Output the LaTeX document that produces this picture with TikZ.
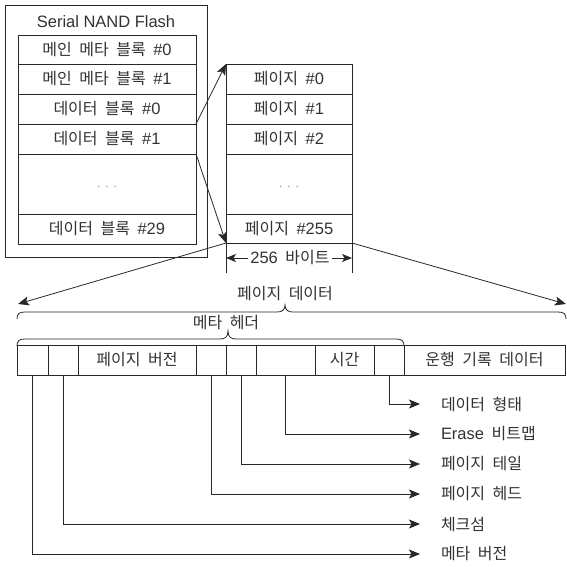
\documentclass[tikz,border=0pt]{standalone}
\usepackage{fontspec}
\setmainfont{Noto Sans CJK KR}[WordSpace=2.1]
\newfontfamily\latf{Liberation Sans}[Scale=1.03]
\newcommand\lt[1]{{\latf #1}}
\usetikzlibrary{arrows.meta}
\definecolor{txt}{RGB}{50,50,50}
\definecolor{lncol}{RGB}{40,40,40}
\newcommand\fs{\fontsize{16}{19}\selectfont}
\tikzset{
  ln/.style={line width=0.8pt, draw=lncol},
  cell/.style={ln, rectangle, inner sep=0pt, outer sep=0pt, text=txt, font=\fs},
  lbl/.style={inner sep=0pt, outer sep=0pt, text=txt, font=\fs},
  dots/.style={inner sep=0pt, text=black!50, font=\fontsize{10}{12}\selectfont},
  arr/.style={ln, -{Stealth[length=11pt,width=9pt,inset=2.5pt]}},
  darr/.style={ln, {Stealth[length=10pt,width=8pt,inset=2.5pt]}-{Stealth[length=10pt,width=8pt,inset=2.5pt]}},
}
\begin{document}
\begin{tikzpicture}[x=1pt,y=-1pt]
\useasboundingbox (0,0) rectangle (567,566);
% flash frame
\node[cell, minimum width=202pt, minimum height=252pt] (flash) at (106,131) {};
\node[lbl] (title) at (106,22) {\lt{Serial NAND Flash}};
% blocks
\node[cell, minimum width=178pt, minimum height=29pt] (m0) at (107,49.5) {메인 메타 블록 \lt{\#0}};
\node[cell, minimum width=178pt, minimum height=30pt] (m1) at (107,79) {메인 메타 블록 \lt{\#1}};
\node[cell, minimum width=178pt, minimum height=30pt] (d0) at (107,109) {데이터 블록 \lt{\#0}};
\node[cell, minimum width=178pt, minimum height=30pt] (d1) at (107,139) {데이터 블록 \lt{\#1}};
\node[cell, minimum width=178pt, minimum height=60pt] (dx) at (107,184) {};
\node[dots] (dxd) at (107,187) {. . .};
\node[cell, minimum width=178pt, minimum height=30pt] (d29) at (107,229) {데이터 블록 \lt{\#29}};
% pages
\node[cell, minimum width=126pt, minimum height=30pt] (p0) at (289,79) {페이지 \lt{\#0}};
\node[cell, minimum width=126pt, minimum height=30pt] (p1) at (289,109) {페이지 \lt{\#1}};
\node[cell, minimum width=126pt, minimum height=30pt] (p2) at (289,139) {페이지 \lt{\#2}};
\node[cell, minimum width=126pt, minimum height=60pt] (px) at (289,184) {};
\node[dots] (pxd) at (289,187) {. . .};
\node[cell, minimum width=126pt, minimum height=29pt] (p255) at (289,228.5) {페이지 \lt{\#255}};
% block -> page arrows
\draw[arr] (d0.south east) -- (p0.north west);
\draw[arr] (d1.south east) -- (p255.south west);
% size dimension
\coordinate (dimL) at (226,273);
\coordinate (dimR) at (352,273);
\coordinate (dal) at (226,258);
\coordinate (dar) at (352,258);
\draw[ln] (p255.south west) -- (dimL);
\draw[ln] (p255.south east) -- (dimR);
\draw[darr] (dal) -- (dar);
\node[lbl, fill=white, inner xsep=2pt] (dimtxt) at (290,258) {\lt{256} 바이트};
% page data fan
\coordinate (tipL) at (18,304);
\coordinate (tipR) at (566,304);
\draw[arr] (p255.south west) -- (tipL);
\draw[arr] (p255.south east) -- (tipR);
\node[lbl] (pdata) at (285,294) {페이지 데이터};
% brace 1
\draw[ln] (17,319) .. controls (17,314) and (19,312) .. (25,312) -- (277,312)
  .. controls (282,312) and (285,310) .. (285,305)
  .. controls (285,310) and (288,312) .. (293,312) -- (558,312)
  .. controls (564,312) and (566,314) .. (566,319);
\node[lbl] (mhead) at (226,323) {메타 헤더};
% brace 2
\draw[ln] (17,346) .. controls (17,341) and (19,339) .. (25,339) -- (220,339)
  .. controls (225,339) and (228,337) .. (228,331)
  .. controls (228,337) and (231,339) .. (236,339) -- (396,339)
  .. controls (402,339) and (404,341) .. (404,346);
% field row
\node[cell, minimum width=31pt, minimum height=30pt] (f1) at (32.5,360) {};
\node[cell, minimum width=30pt, minimum height=30pt] (f2) at (63,360) {};
\node[cell, minimum width=118pt, minimum height=30pt] (f3) at (137,360) {페이지 버전};
\node[cell, minimum width=30pt, minimum height=30pt] (f4) at (211,360) {};
\node[cell, minimum width=30pt, minimum height=30pt] (f5) at (241,360) {};
\node[cell, minimum width=59pt, minimum height=30pt] (f6) at (285.5,360) {};
\node[cell, minimum width=59pt, minimum height=30pt] (f7) at (344.5,360) {시간};
\node[cell, minimum width=30pt, minimum height=30pt] (f8) at (389,360) {};
\node[cell, minimum width=161pt, minimum height=30pt] (f9) at (484.5,360) {운행 기록 데이터};
% legend labels
\node[lbl, anchor=west] (l1) at (441,404) {데이터 형태};
\node[lbl, anchor=west] (l2) at (441,434) {\lt{Erase} 비트맵};
\node[lbl, anchor=west] (l3) at (441,464) {페이지 테일};
\node[lbl, anchor=west] (l4) at (441,494) {페이지 헤드};
\node[lbl, anchor=west] (l5) at (441,524) {체크섬};
\node[lbl, anchor=west] (l6) at (441,554) {메타 버전};
% leaders
\draw[arr, shorten >=21pt] (f8.south) |- (l1.west);
\draw[arr, shorten >=21pt] (f6.south) |- (l2.west);
\draw[arr, shorten >=21pt] (f5.south) |- (l3.west);
\draw[arr, shorten >=21pt] (f4.south) |- (l4.west);
\draw[arr, shorten >=21pt] (f2.south) |- (l5.west);
\draw[arr, shorten >=21pt] (f1.south) |- (l6.west);
\end{tikzpicture}
\end{document}
